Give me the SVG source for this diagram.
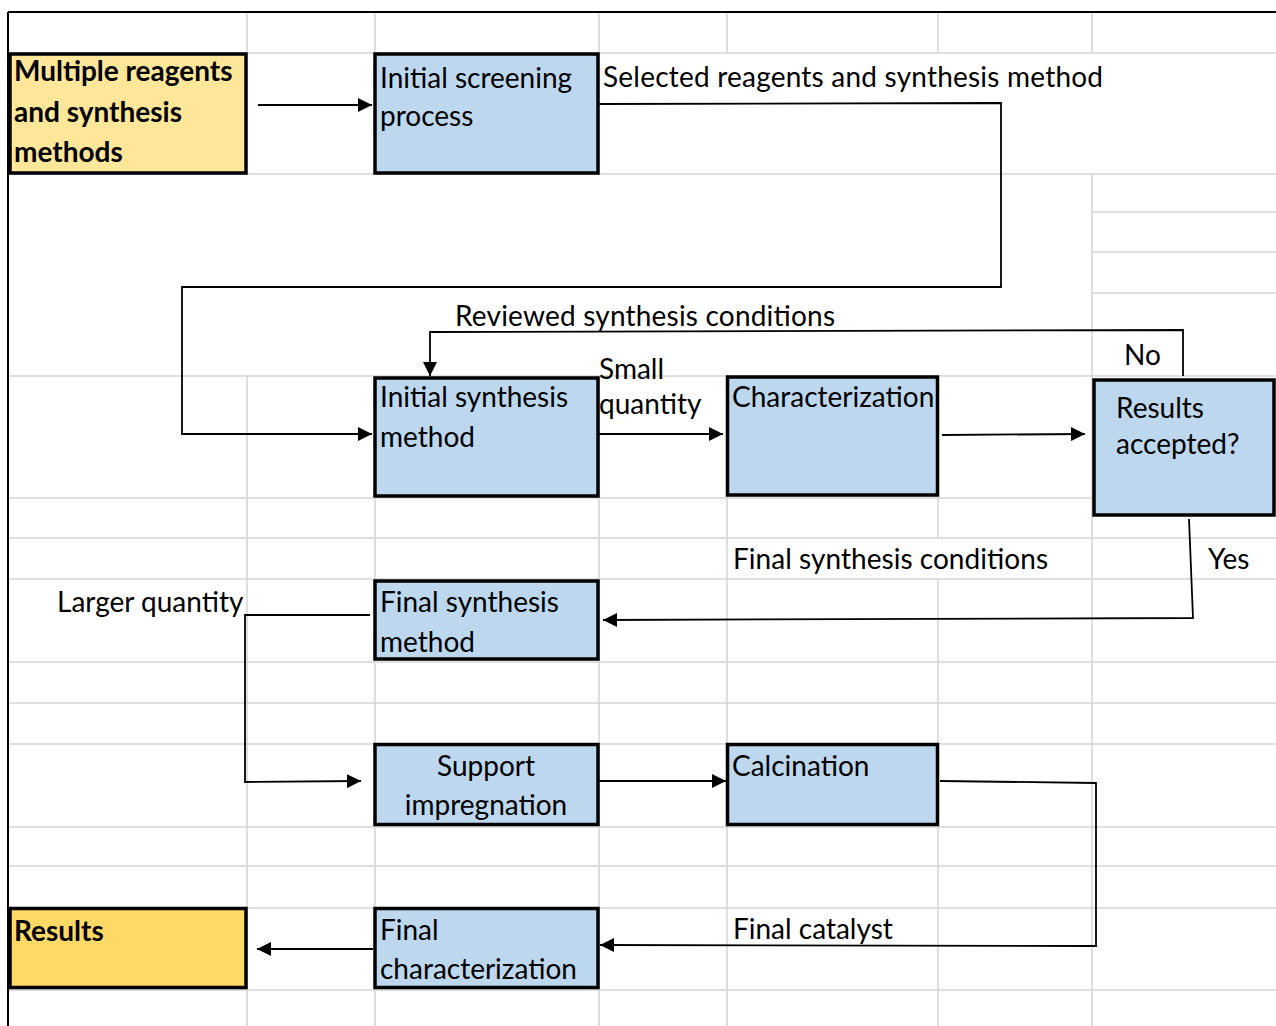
<svg xmlns="http://www.w3.org/2000/svg" width="1276" height="1026" viewBox="0 0 1276 1026">
<defs>
<style>
.grid line{stroke:#d4d4d4;stroke-width:1.5}
.node rect{stroke:#000;stroke-width:3.5}
.blue{fill:#BDD7EE}
.y1{fill:#FFE699}
.y2{fill:#FFD966}
text{font-family:Lato,"Liberation Sans",sans-serif;font-size:28px;fill:#000}
.b{font-weight:bold}
.conn path{fill:none;stroke:#000;stroke-width:1.8}
</style>
<marker id="ah" markerUnits="userSpaceOnUse" markerWidth="15" markerHeight="14" refX="14" refY="7" orient="auto">
<path d="M0,0 L14,7 L0,14 z" fill="#000"/>
</marker>
</defs>
<rect x="0" y="0" width="1276" height="1026" fill="#fff"/>
<g class="grid">
<line x1="8" y1="53" x2="1276" y2="53"/>
<line x1="8" y1="174" x2="1276" y2="174"/>
<line x1="1092" y1="212" x2="1276" y2="212"/>
<line x1="1092" y1="252" x2="1276" y2="252"/>
<line x1="1092" y1="293" x2="1276" y2="293"/>
<line x1="8" y1="376" x2="1276" y2="376"/>
<line x1="8" y1="498" x2="1276" y2="498"/>
<line x1="8" y1="538" x2="1276" y2="538"/>
<line x1="8" y1="579" x2="1276" y2="579"/>
<line x1="8" y1="662" x2="1276" y2="662"/>
<line x1="8" y1="703" x2="1276" y2="703"/>
<line x1="8" y1="744" x2="1276" y2="744"/>
<line x1="8" y1="827" x2="1276" y2="827"/>
<line x1="8" y1="866" x2="1276" y2="866"/>
<line x1="8" y1="908" x2="1276" y2="908"/>
<line x1="8" y1="990" x2="1276" y2="990"/>
<line x1="247" y1="12" x2="247" y2="53"/>
<line x1="375" y1="12" x2="375" y2="53"/>
<line x1="599" y1="12" x2="599" y2="53"/>
<line x1="727" y1="12" x2="727" y2="53"/>
<line x1="938" y1="12" x2="938" y2="53"/>
<line x1="1092" y1="12" x2="1092" y2="53"/>
<line x1="247" y1="376" x2="247" y2="1026"/>
<line x1="375" y1="376" x2="375" y2="1026"/>
<line x1="599" y1="376" x2="599" y2="1026"/>
<line x1="727" y1="376" x2="727" y2="1026"/>
<line x1="938" y1="376" x2="938" y2="538"/>
<line x1="938" y1="579" x2="938" y2="1026"/>
<line x1="1092" y1="174" x2="1092" y2="1026"/>
</g>
<g id="frame">
<line x1="8" y1="12" x2="1276" y2="12" stroke="#000" stroke-width="2"/>
<line x1="8" y1="12" x2="8" y2="1026" stroke="#000" stroke-width="2"/>
</g>
<g class="conn" id="connectors">
<path d="M258,105 L372,105" marker-end="url(#ah)"/>
<path d="M599,104 L1001,103 L1001,287 L182,287 L182,434 L372,434" marker-end="url(#ah)"/>
<path d="M1183,376 L1183,330 L430,332 L430,376" marker-end="url(#ah)"/>
<path d="M599,434 L723,434" marker-end="url(#ah)"/>
<path d="M942,435 L1085,434" marker-end="url(#ah)"/>
<path d="M1189,519 L1193,618 L603,620" marker-end="url(#ah)"/>
<path d="M370,615 L245,615 L245,782 L361,781" marker-end="url(#ah)"/>
<path d="M599,781 L726,781" marker-end="url(#ah)"/>
<path d="M940,781 L1096,783 L1096,946 L600,945" marker-end="url(#ah)"/>
<path d="M373,949 L257,949" marker-end="url(#ah)"/>
</g>
<g id="labels">
<text x="603" y="87" textLength="500">Selected reagents and synthesis method</text>
<text x="455" y="326" textLength="380">Reviewed synthesis conditions</text>
<text x="599" y="379">Small</text>
<text x="599" y="414">quantity</text>
<text x="1124" y="365">No</text>
<text x="733" y="569" textLength="315">Final synthesis conditions</text>
<text x="1208" y="569">Yes</text>
<text x="57" y="612">Larger quantity</text>
<text x="733" y="939">Final catalyst</text>
</g>
<g id="n1" class="node">
<rect class="y1" x="10" y="54" width="236" height="119"/>
<text class="b" x="14" y="81">Multiple reagents</text>
<text class="b" x="14" y="122">and synthesis</text>
<text class="b" x="14" y="162">methods</text>
</g>
<g id="n2" class="node">
<rect class="blue" x="375" y="54" width="223" height="119"/>
<text x="380" y="88">Initial screening</text>
<text x="380" y="126">process</text>
</g>
<g id="n3" class="node">
<rect class="blue" x="375" y="378" width="223" height="118"/>
<text x="380" y="407">Initial synthesis</text>
<text x="380" y="447">method</text>
</g>
<g id="n4" class="node">
<rect class="blue" x="727.5" y="377" width="210" height="118"/>
<text x="732" y="407">Characterization</text>
</g>
<g id="n5" class="node">
<rect class="blue" x="1094" y="380" width="180" height="135"/>
<text x="1116" y="418">Results</text>
<text x="1116" y="454">accepted?</text>
</g>
<g id="n6" class="node">
<rect class="blue" x="375" y="581" width="223" height="78"/>
<text x="380" y="612">Final synthesis</text>
<text x="380" y="652">method</text>
</g>
<g id="n7" class="node">
<rect class="blue" x="375" y="744.5" width="223" height="80"/>
<text x="486" y="776" text-anchor="middle">Support</text>
<text x="486" y="815" text-anchor="middle">impregnation</text>
</g>
<g id="n8" class="node">
<rect class="blue" x="727.5" y="744.5" width="210" height="80"/>
<text x="732" y="776">Calcination</text>
</g>
<g id="n9" class="node">
<rect class="y2" x="10" y="908.5" width="236" height="79"/>
<text class="b" x="14" y="941">Results</text>
</g>
<g id="n10" class="node">
<rect class="blue" x="375" y="908.5" width="223" height="79"/>
<text x="380" y="940">Final</text>
<text x="380" y="979">characterization</text>
</g>
</svg>
